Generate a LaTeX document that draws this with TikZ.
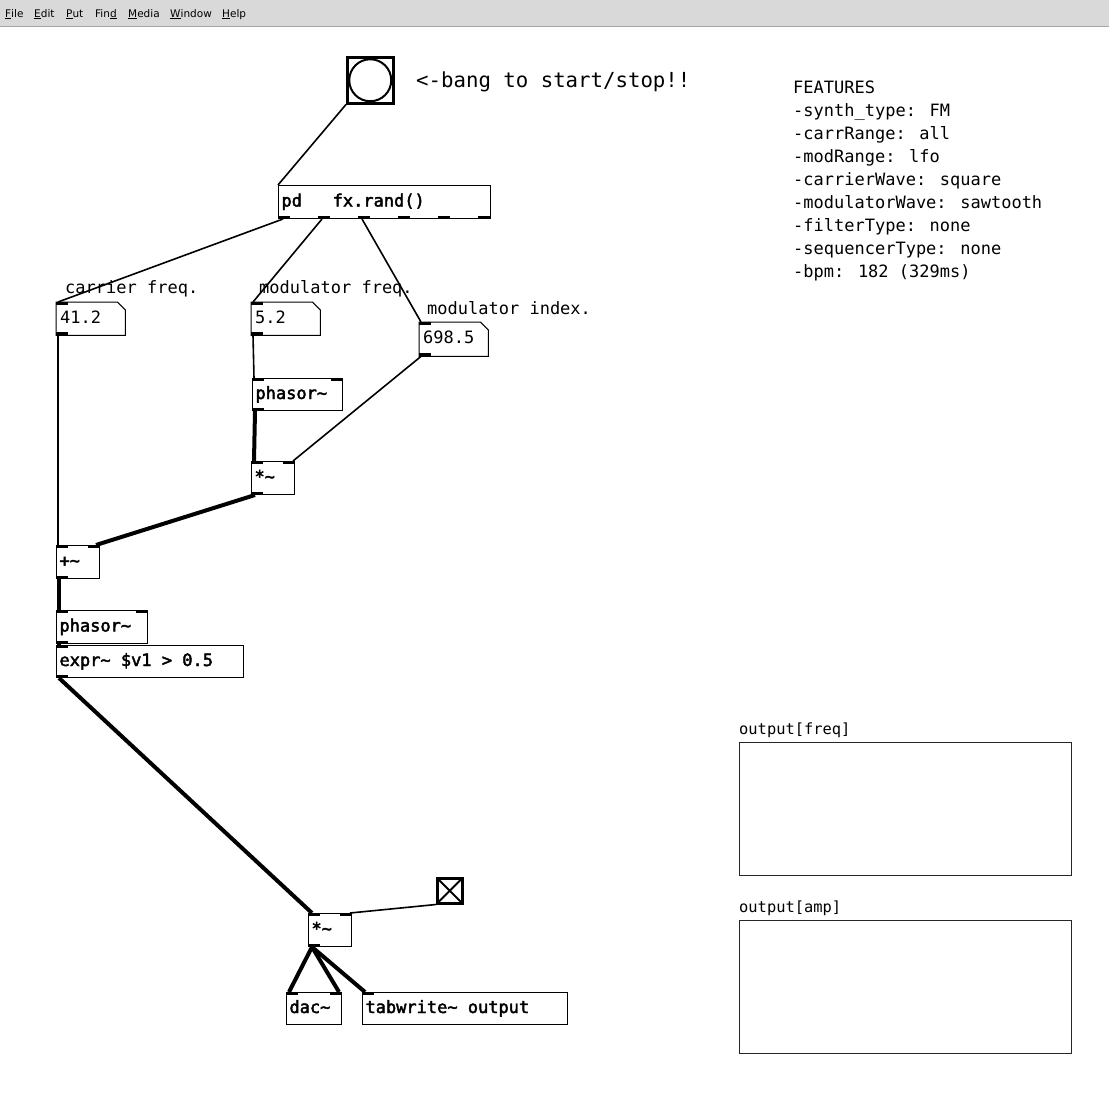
\documentclass[tikz,border=0pt]{standalone}
\usepackage{fontspec}
\usetikzlibrary{calc}
\newfontfamily\pdmono{DejaVu Sans Mono}
\newfontfamily\pdbold{DejaVu Sans Mono}[FakeBold=2.5]
\newfontfamily\pdmenu{DejaVu Sans}
\newcommand{\pdtxt}{\pdmono\fontsize{17}{20}\selectfont}
\newcommand{\pdobj}{\pdbold\fontsize{17}{20}\selectfont}
\newcommand{\tld}{\textasciitilde}
\definecolor{menugray}{RGB}{217,217,217}
\tikzset{
    boxline/.style={draw=black, line width=1pt},
    obj/.style={boxline, anchor=north west, inner xsep=3pt, inner ysep=0pt, minimum height=33pt,
      text height=12pt, text depth=3pt, align=left, font=\pdobj, text width=#1,
      execute at begin node={\spaceskip=0.602em\relax}},
    numbox/.style={anchor=north west, inner xsep=4pt, inner ysep=0pt, minimum height=33pt,
      text height=12pt, text depth=3pt, align=left, font=\pdtxt, text width=#1},
    comment/.style={anchor=base west, inner sep=0pt, font=\pdtxt},
    ctrl/.style={line width=1.6pt},
    sig/.style={line width=4pt},
  }
% in- and outlets
\newcommand{\inL}[1]{\fill (#1.north west) rectangle ++(12,3);}
\newcommand{\inR}[1]{\fill (#1.north east) rectangle ++(-12,3);}
\newcommand{\outL}[1]{\fill (#1.south west) rectangle ++(12,-3);}
\newcommand{\numframe}[1]{\draw[boxline] (#1.north west) -- ([xshift=-8pt]#1.north east)
  -- ([yshift=-8pt]#1.north east) -- (#1.south east) -- (#1.south west) -- cycle;}
\begin{document}
\begin{tikzpicture}[x=1pt,y=-1pt]
  \useasboundingbox[fill=white] (0,0) rectangle (1109,1109);
  %menu
  \fill[menugray] (0,0) rectangle (1109,26);
  \draw[black!35, line width=1pt] (0,26) -- (1109,26);
  \foreach \x/\t in {5/{\underline{F}ile}, 34/{\underline{E}dit}, 66/{\underline{P}ut}, 95/{Fin\underline{d}},
      128/{\underline{M}edia}, 170/{\underline{W}indow}, 222/{\underline{H}elp}}
    \node[anchor=base west, inner sep=0pt, font=\pdmenu\fontsize{10.5}{12}\selectfont] at (\x,17) {\t};
  %bang
  \node[draw, line width=2.5pt, minimum size=46pt, inner sep=0pt, anchor=north west] (bng) at (346,56) {};
  \draw[line width=2pt] (bng.center) circle (21pt);
  \node[comment, font=\pdmono\fontsize{20.7}{24}\selectfont] (bngtxt) at (416,87) {<-bang to start/stop!!};
  %pd fx.rand()
  \node[obj=206pt] (pd) at (278,185) {pd\ \ \ fx.rand()};
  \foreach \k in {0,...,5}
    \fill ($(pd.south west)+(\k*40,0)$) rectangle ++(12,-3);
  %number boxes
  \node[comment] (lcar) at (65,293) {carrier freq.};
  \node[comment] (lmod) at (259,293) {modulator freq.};
  \node[comment] (lidx) at (427,314) {modulator index.};
  \node[numbox=61pt] (n41) at (56,302) {41.2};
  \node[numbox=61pt] (n52) at (251,302) {5.2};
  \node[numbox=61pt, minimum height=34pt] (n698) at (419,322) {698.5};
  \numframe{n41} \numframe{n52} \numframe{n698}
  \inL{n41} \outL{n41} \inL{n52} \outL{n52} \inL{n698} \outL{n698}
  %objects
  \node[obj=84pt, minimum height=32pt] (ph1) at (252,378) {phasor\tld};
  \node[obj=37pt] (m1) at (251,461) {*\tld};
  \node[obj=37pt] (add) at (56,545) {+\tld};
  \node[obj=85pt] (ph2) at (56,610) {phasor\tld};
  \node[obj=181pt, minimum height=32pt] (expr) at (56,645) {expr\tld\ \$v1 > 0.5};
  \node[obj=37pt] (m2) at (308,913) {*\tld};
  \node[obj=49pt, minimum height=32pt] (dac) at (286,992) {dac\tld};
  \node[obj=199pt, minimum height=32pt] (tabw) at (362,992) {tabwrite\tld\ output};
  \foreach \n in {ph1,m1,add,ph2,m2,dac} {\inL{\n} \inR{\n}}
  \foreach \n in {expr,tabw} {\inL{\n}}
  \foreach \n in {ph1,m1,add,ph2,expr,m2} {\outL{\n}}
  %toggle
  \node[draw, line width=2.5pt, minimum size=25pt, inner sep=0pt, anchor=north west] (tgl) at (436,877) {};
  \draw[line width=2pt] ([shift={(2pt,-2pt)}]tgl.north west) -- ([shift={(-2pt,2pt)}]tgl.south east);
  \draw[line width=2pt] ([shift={(-2pt,-2pt)}]tgl.north east) -- ([shift={(2pt,2pt)}]tgl.south west);
  %connections
  \draw[ctrl] (bng.south west) -- (pd.north west);
  \draw[ctrl] ($(pd.south west)+(5,0)$) -- ([xshift=2pt]n41.north west);
  \draw[ctrl] ($(pd.south west)+(44,0)$) -- ([xshift=2pt]n52.north west);
  \draw[ctrl] ($(pd.south west)+(84,0)$) -- ([xshift=2pt]n698.north west);
  \draw[ctrl] ([xshift=2pt]n52.south west) -- ([xshift=2pt]ph1.north west);
  \draw[sig] ([xshift=3pt]ph1.south west) -- ([xshift=3pt]m1.north west);
  \draw[ctrl] ([xshift=2pt]n698.south west) -- ([xshift=-2pt]m1.north east);
  \draw[sig] ([xshift=4pt]m1.south west) -- ([xshift=-4pt]add.north east);
  \draw[ctrl] ([xshift=2pt]n41.south west) -- ([xshift=2pt]add.north west);
  \draw[sig] ([xshift=3pt]add.south west) -- ([xshift=3pt]ph2.north west);
  \draw[sig] ([xshift=3pt]ph2.south west) -- ([xshift=3pt]expr.north west);
  \draw[sig] ([xshift=3pt]expr.south west) -- ([xshift=4pt]m2.north west);
  \draw[ctrl] (tgl.south west) -- ([xshift=-2pt]m2.north east);
  \draw[sig] ([xshift=4pt]m2.south west) -- ([xshift=3pt]dac.north west);
  \draw[sig] ([xshift=4pt]m2.south west) -- ([xshift=-3pt]dac.north east);
  \draw[sig] ([xshift=4pt]m2.south west) -- ([xshift=3pt]tabw.north west);
  %features
  \foreach \t [count=\i from 0] in {FEATURES, -synth\_type: FM, -carrRange: all, -modRange: lfo,
      -carrierWave: square, -modulatorWave: sawtooth, -filterType: none, -sequencerType: none, -bpm: 182 (329ms)}
    \node[comment] at (793,93+23.1*\i) {\t};
  %arrays
  \node[comment, font=\pdmono\fontsize{15.4}{18}\selectfont] (lfreq) at (739,734) {output[freq]};
  \node[draw=black!85, line width=1.2pt, minimum width=332pt, minimum height=133pt, anchor=north west] (afreq) at (739,742) {};
  \node[comment, font=\pdmono\fontsize{15.4}{18}\selectfont] (lamp) at (739,912) {output[amp]};
  \node[draw=black!85, line width=1.2pt, minimum width=332pt, minimum height=133pt, anchor=north west] (aamp) at (739,920) {};
\end{tikzpicture}
\end{document}
